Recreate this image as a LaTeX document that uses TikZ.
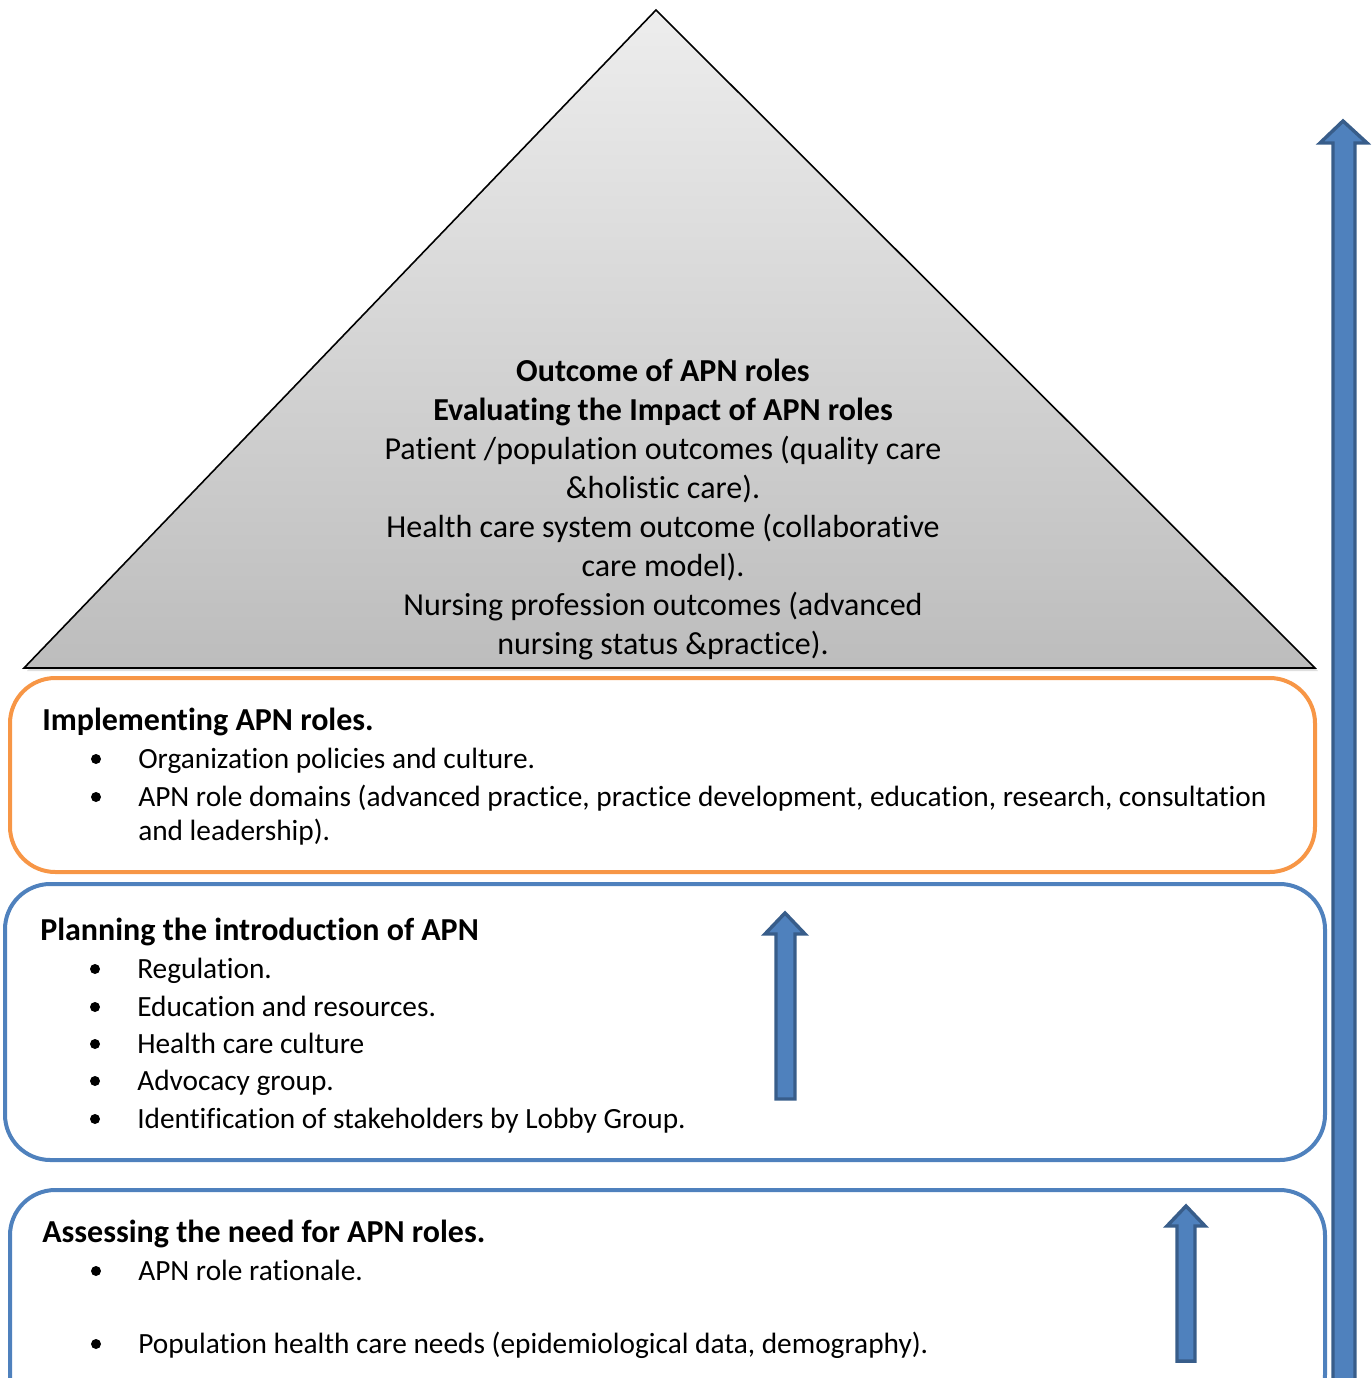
\documentclass[tikz,border=0pt]{standalone}
\usepackage{fontspec}
\setmainfont[Ligatures=NoCommon]{Carlito}
\definecolor{apnblue}{HTML}{4F81BD}
\definecolor{apnblueedge}{HTML}{385D8A}
\definecolor{apnorange}{HTML}{F79646}
\begin{document}
\begin{tikzpicture}[x=0.75pt,y=-0.75pt,
  txt/.style={font=\fontsize{22}{27}\selectfont, inner sep=0pt, anchor=base west},
  head/.style={inner sep=0pt, anchor=base west, font=\fontsize{24}{29.25}\selectfont\bfseries},
  bul/.style={circle, fill=black, inner sep=0pt, minimum size=7.5pt},
  stage/.style={rounded corners=34pt, line width=3pt},
  uparrow/.style={fill=apnblue, draw=apnblueedge, line width=2.6pt, line join=miter}]
\useasboundingbox (0,0) rectangle (1371,1378);
\clip (0,0) rectangle (1371,1378);

% top of the pyramid: outcomes
\fill[black!25, opacity=0.5] (657,13) -- (1318,671) -- (27,671) -- cycle;
\shade[top color=black!7, bottom color=black!26, draw=black, line width=1.2pt]
  (656,10) -- (1315,668) -- (24,668) -- cycle;
\node[font=\fontsize{24}{29.25}\selectfont, align=center, inner sep=0pt] (outcome) at (663,510)
  {\textbf{Outcome of APN roles}\\
   \textbf{Evaluating the Impact of APN roles}\\
   Patient /population outcomes (quality care\\
   \&holistic care).\\
   Health care system outcome (collaborative\\
   care model).\\
   Nursing profession outcomes (advanced\\
   nursing status \&practice).};

% implementing stage
\draw[stage, draw=apnorange] (10,678) rectangle (1315,872);
\node[head] (impl) at (42,730) {Implementing APN roles.};
\node[bul] (b11) at (96,759) {};
\node[txt] (i1) at (138,768) {Organization policies and culture.};
\node[bul] (b12) at (96,797) {};
\node[txt] (i2) at (138,806) {APN role domains (advanced practice, practice development, education, research, consultation};
\node[txt] (i3) at (138,840) {and leadership).};

% planning stage
\draw[stage, draw=apnblue] (5,884) rectangle (1325,1160);
\node[head] (plan) at (40,940) {Planning the introduction of APN};
\node[bul] (b21) at (95,969) {};
\node[txt] (p1) at (137,978) {Regulation.};
\node[bul] (b22) at (95,1007) {};
\node[txt] (p2) at (137,1016) {Education and resources.};
\node[bul] (b23) at (95,1044) {};
\node[txt] (p3) at (137,1053) {Health care culture};
\node[bul] (b24) at (95,1081) {};
\node[txt] (p4) at (137,1090) {Advocacy group.};
\node[bul] (b25) at (95,1119) {};
\node[txt] (p5) at (137,1128) {Identification of stakeholders by Lobby Group.};

% assessing stage
\draw[stage, draw=apnblue] (10,1190) rectangle (1325,1420);
\node[head] (assess) at (42,1242) {Assessing the need for APN roles.};
\node[bul] (b31) at (96,1271) {};
\node[txt] (a1) at (138,1280) {APN role rationale.};
\node[bul] (b32) at (96,1344) {};
\node[txt] (a2) at (138,1353) {Population health care needs (epidemiological data, demography).};

% upward arrows
\draw[uparrow] (776,1099) -- (776,934) -- (765,934) -- (785,913) -- (805,934) -- (795,934) -- (795,1099) -- cycle;
\draw[uparrow] (1177,1361) -- (1177,1226) -- (1167,1226) -- (1186,1206) -- (1205,1226) -- (1195,1226) -- (1195,1361) -- cycle;
\draw[uparrow] (1333,1420) -- (1333,143) -- (1320,143) -- (1343,121) -- (1367,143) -- (1355,143) -- (1355,1420) -- cycle;
\end{tikzpicture}
\end{document}
